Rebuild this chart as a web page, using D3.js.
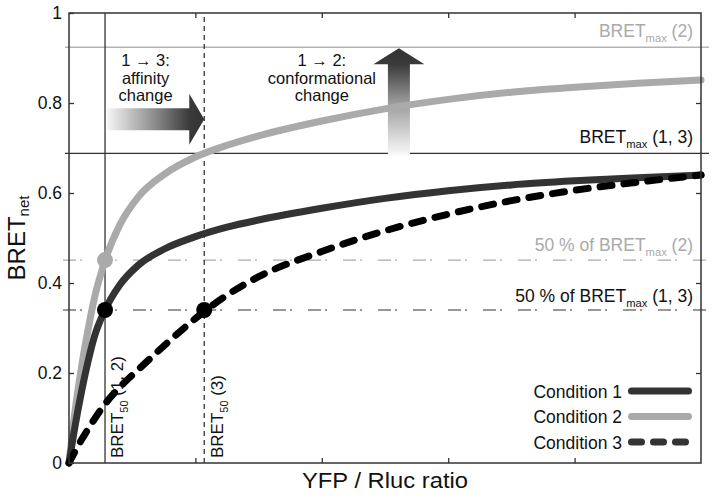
<!DOCTYPE html>
<html><head><meta charset="utf-8">
<script src="https://cdn.jsdelivr.net/npm/d3@7"></script>
<style>
html,body{margin:0;padding:0;background:#fff;}
svg{display:block;font-family:"Liberation Sans",Arial,sans-serif;}
</style></head>
<body><svg id="chart" width="714" height="498"></svg>
<script>
// ---- data ----
const xRatio = [0, 0.05, 0.1, 0.15, 0.2, 0.285, 0.4, 0.55, 0.75, 1.0, 1.25, 1.5, 2.0, 2.5, 3.0, 3.5, 4.0, 4.5, 5.0];
const cond1 = [0, 0.085, 0.16, 0.225, 0.28, 0.34, 0.395, 0.44, 0.475, 0.503, 0.524, 0.54, 0.566, 0.588, 0.605, 0.618, 0.627, 0.634, 0.64];
const cond2 = [0, 0.12, 0.215, 0.295, 0.365, 0.45, 0.528, 0.592, 0.641, 0.68, 0.706, 0.727, 0.76, 0.787, 0.808, 0.824, 0.835, 0.844, 0.851];
const cond3 = [0, 0.027, 0.052, 0.075, 0.097, 0.131, 0.168, 0.208, 0.26, 0.321, 0.373, 0.414, 0.47, 0.516, 0.553, 0.583, 0.606, 0.624, 0.64];
const seriesNames = ["Condition 1", "Condition 2", "Condition 3"];
const yTicks = [0, 0.2, 0.4, 0.6, 0.8, 1];
const xTicks = [1, 2, 3, 4];
const bretMax2 = 0.924, bretMax13 = 0.688;
const half2 = 0.451, half13 = 0.34;
const bret50_12 = 0.285, bret50_3 = 1.07;
const arrowH = {x0: 0.30, x1: bret50_3, y: 0.764};
const arrowV = {x: 2.61, y0: bretMax13, y1: bretMax2};

// ---- layout ----
const svg = d3.select("#chart");
const x = d3.scaleLinear([0, 5], [69, 701]);
const y = d3.scaleLinear([0, 1], [463, 13]);
const dark = "#333", grey = "#aaa", black = "#000";
const FS = 17.5;

const defs = svg.append("defs");
const hg = defs.append("linearGradient").attr("id","hg").attr("x1",0).attr("x2",1).attr("y1",0).attr("y2",0);
hg.append("stop").attr("offset","0%").attr("stop-color","#f6f6f6");
hg.append("stop").attr("offset","50%").attr("stop-color","#8a8a8a");
hg.append("stop").attr("offset","85%").attr("stop-color","#3a3a3a");
hg.append("stop").attr("offset","100%").attr("stop-color","#333");
const vg = defs.append("linearGradient").attr("id","vg").attr("x1",0).attr("x2",0).attr("y1",1).attr("y2",0);
vg.append("stop").attr("offset","0%").attr("stop-color","#fafafa");
vg.append("stop").attr("offset","50%").attr("stop-color","#999");
vg.append("stop").attr("offset","85%").attr("stop-color","#3a3a3a");
vg.append("stop").attr("offset","100%").attr("stop-color","#333");

// reference lines
const xl = x(0) - 4, xr = x(5) + 8;
svg.append("line").attr("x1",xl).attr("x2",xr).attr("y1",y(bretMax2)).attr("y2",y(bretMax2))
  .attr("stroke","#b4b4b4").attr("stroke-width",1.5);
svg.append("line").attr("x1",xl).attr("x2",xr).attr("y1",y(bretMax13)).attr("y2",y(bretMax13))
  .attr("stroke",dark).attr("stroke-width",1.3);
svg.append("line").attr("x1",xl-2).attr("x2",xr-2).attr("y1",y(half2)).attr("y2",y(half2))
  .attr("stroke",grey).attr("stroke-width",1.2).attr("stroke-dasharray","13 4 2 16");
svg.append("line").attr("x1",xl-2).attr("x2",xr-2).attr("y1",y(half13)).attr("y2",y(half13))
  .attr("stroke",dark).attr("stroke-width",1.2).attr("stroke-dasharray","13 4 2 16");
svg.append("line").attr("x1",x(bret50_12)).attr("x2",x(bret50_12)).attr("y1",y(0)).attr("y2",y(1))
  .attr("stroke",dark).attr("stroke-width",1.3);
svg.append("line").attr("x1",x(bret50_3)).attr("x2",x(bret50_3)).attr("y1",y(0)).attr("y2",y(1))
  .attr("stroke",dark).attr("stroke-width",1.3).attr("stroke-dasharray","5 4");

// arrows
{
  const ax0 = x(arrowH.x0), ax1 = x(arrowH.x1), ay = y(arrowH.y);
  const hb = 11, hh = 25.5, hl = 15;
  const p = d3.path();
  p.moveTo(ax0, ay-hb); p.lineTo(ax1-hl, ay-hb); p.lineTo(ax1-hl, ay-hh); p.lineTo(ax1, ay);
  p.lineTo(ax1-hl, ay+hh); p.lineTo(ax1-hl, ay+hb); p.lineTo(ax0, ay+hb); p.closePath();
  svg.append("path").attr("d",p.toString()).attr("fill","url(#hg)");
  const vx = x(arrowV.x), vy0 = y(arrowV.y0)+2, vy1 = y(arrowV.y1)+1;
  const q = d3.path();
  q.moveTo(vx-hb, vy0); q.lineTo(vx-hb, vy1+16); q.lineTo(vx-hh, vy1+16); q.lineTo(vx, vy1);
  q.lineTo(vx+hh, vy1+16); q.lineTo(vx+hb, vy1+16); q.lineTo(vx+hb, vy0); q.closePath();
  svg.append("path").attr("d",q.toString()).attr("fill","url(#vg)");
}

// curves
const line = d3.line().x(d=>x(d[0])).y(d=>y(d[1])).curve(d3.curveMonotoneX);
const series = [
  {name: seriesNames[0], vals: cond1, color: dark, dash: null},
  {name: seriesNames[1], vals: cond2, color: grey, dash: null},
  {name: seriesNames[2], vals: cond3, color: black, dash: "12 12"}
];
[series[1], series[0], series[2]].forEach(s => {
  svg.append("path").attr("d", line(xRatio.map((v,i)=>[v, s.vals[i]])))
    .attr("fill","none").attr("stroke",s.color).attr("stroke-width",7)
    .attr("stroke-linecap","round").attr("stroke-linejoin","round")
    .attr("stroke-dasharray", s.dash);
});

// dots
const dots = [[bret50_12, half2, grey],[bret50_12, half13, black],[bret50_3, half13, black]];
svg.selectAll("circle.pt").data(dots).join("circle").attr("class","pt")
  .attr("cx",d=>x(d[0])).attr("cy",d=>y(d[1])).attr("r",8).attr("fill",d=>d[2]);

// axes (inward ticks, mirrored)
const ax = svg.append("g");
const styleAxis = g => { g.select(".domain").remove(); g.selectAll(".tick line").attr("stroke",dark).attr("stroke-width",1.3);
  g.selectAll("text").attr("font-size",FS).attr("fill","#111").attr("font-family","Liberation Sans, Arial, sans-serif"); };
ax.append("g").attr("transform",`translate(${x(0)},0)`)
  .call(d3.axisLeft(y).tickValues(yTicks).tickSize(-5).tickPadding(7).tickFormat(d3.format("~g"))).call(styleAxis);
ax.append("g").attr("transform",`translate(${x(5)},0)`)
  .call(d3.axisRight(y).tickValues(yTicks.slice(1,-1)).tickSize(-5).tickFormat("")).call(styleAxis);
ax.append("g").attr("transform",`translate(0,${y(0)})`)
  .call(d3.axisBottom(x).tickValues(xTicks).tickSize(-5).tickFormat("")).call(styleAxis);
ax.append("g").attr("transform",`translate(0,${y(1)})`)
  .call(d3.axisTop(x).tickValues(xTicks).tickSize(-5).tickFormat("")).call(styleAxis);
svg.append("rect").attr("x",x(0)).attr("y",y(1)).attr("width",x(5)-x(0)).attr("height",y(0)-y(1))
  .attr("fill","none").attr("stroke",dark).attr("stroke-width",1.5);

// axis titles
const yt = svg.append("text").attr("transform",`translate(25,${(y(0)+y(1))/2}) rotate(-90)`)
  .attr("text-anchor","middle").attr("fill","#111");
yt.append("tspan").attr("font-size",24).text("BRET");
yt.append("tspan").attr("font-size",15).attr("dy",4).text("net");
svg.append("text").attr("x",(x(0)+x(5))/2).attr("y",488).attr("text-anchor","middle")
  .attr("font-size",22).attr("fill","#111").attr("textLength",166).attr("lengthAdjust","spacingAndGlyphs")
  .text("YFP / Rluc ratio");

// labelled text with subscripts
function subText(xp, yp, parts, color, anchor, size, rot) {
  const t = svg.append("text").attr("fill",color).attr("text-anchor",anchor);
  if (rot) t.attr("transform",`translate(${xp},${yp}) rotate(-90)`); else t.attr("x",xp).attr("y",yp);
  let shift = 0;
  parts.forEach(p => {
    const sub = p[1];
    const target = sub ? 5 : 0;
    t.append("tspan").attr("font-size", sub ? size*0.64 : size).attr("dy", target - shift).text(p[0]);
    shift = target;
  });
  return t;
}
const rightX = x(5) - 8;
subText(rightX, 37, [["BRET",0],["max",1],[" (2)",0]], grey, "end", FS);
subText(rightX, 143, [["BRET",0],["max",1],[" (1, 3)",0]], "#111", "end", FS);
subText(rightX, 251, [["50 % of BRET",0],["max",1],[" (2)",0]], grey, "end", FS);
subText(rightX, 302, [["50 % of BRET",0],["max",1],[" (1, 3)",0]], "#111", "end", FS);
subText(x(bret50_12)+18, 458, [["BRET",0],["50",1],[" (1, 2)",0]], "#111", "start", 17, true);
subText(x(bret50_3)+19, 458, [["BRET",0],["50",1],[" (3)",0]], "#111", "start", 17, true);

// arrow captions (one text element per caption, lines as tspans)
function caption(cx, lines) {
  const t = svg.append("text").attr("text-anchor","middle").attr("font-size",16.5).attr("fill","#111");
  lines.forEach((s,i) => t.append("tspan").attr("x",cx).attr("y",66 + i*17.5).text(s));
}
caption((x(arrowH.x0)+x(arrowH.x1))/2 - 10, ["1 \u2192 3:", "affinity", "change"]);
caption(x(arrowV.x) - 77, ["1 \u2192 2:", "conformational", "change"]);

// legend
const lg = svg.append("g");
series.forEach((s,i) => {
  const ly = 391 + i*25.5;
  lg.append("text").attr("x",622).attr("y",ly+6.5).attr("text-anchor","end").attr("font-size",FS)
    .attr("fill","#111").text(s.name);
  lg.append("line").attr("x1",631.5).attr("x2",688.5).attr("y1",ly).attr("y2",ly)
    .attr("stroke", i===2 ? dark : s.color).attr("stroke-width",7).attr("stroke-linecap","round")
    .attr("stroke-dasharray", i===2 ? "10 12" : null);
});
</script></body></html>
